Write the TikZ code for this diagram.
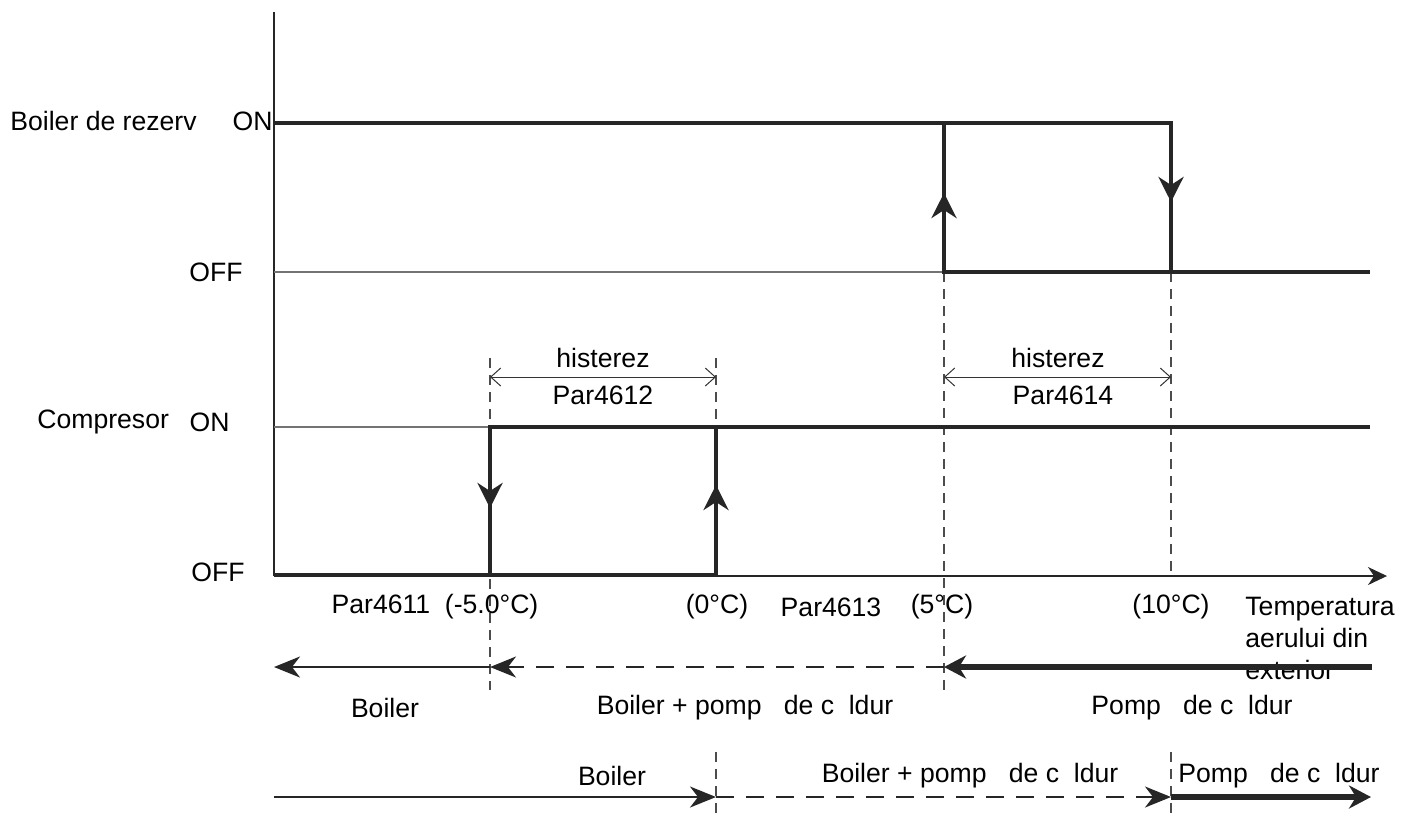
\documentclass[tikz,border=0pt]{standalone}
\usepackage{fontspec}
\setmainfont{Liberation Sans}
\usetikzlibrary{arrows.meta,positioning}
\newcommand{\glyphgap}{\hspace{0.556em}}
\tikzset{
  axis/.style={line width=0.8pt,black!85},
  lvl/.style={line width=2.2pt,black!85},
  thinlvl/.style={line width=0.7pt,black!55},
  guide/.style={dash pattern=on 5pt off 3.5pt,line width=0.6pt,black!70},
  flip/.style={lvl,-{Stealth[length=12.5pt,width=12.5pt,inset=4pt]}},
  hyst/.style={{Straight Barb[length=5pt,width=9pt]}-{Straight Barb[length=5pt,width=9pt]},line width=0.5pt,black!80},
  zone/.style={line width=1pt,black!85,-{Stealth[length=13pt,width=10.5pt,inset=4pt]}},
  zonedash/.style={zone,dash pattern=on 9pt off 6pt},
  zonebold/.style={line width=2.6pt,black!85,-{Stealth[length=11pt,width=11.5pt,inset=3.5pt]}},
  lbl/.style={font=\fontsize{13.3}{16}\selectfont,inner sep=0pt,text=black}
}

\begin{document}
\begin{tikzpicture}[x=0.5pt,y=-0.5pt]
  \useasboundingbox (0,0) rectangle (1401,816);

  % Axes
  \coordinate (o) at (274,576);
  \coordinate (ytop) at (274,12);
  \coordinate (xend) at (1387,576);
  \draw[axis] (ytop) -- (o);
  \draw[axis,-{Stealth[length=9.5pt,width=9pt,inset=3pt]}] (o) -- (xend);

  % Dashed guides
  \draw[guide] (490,358) -- (490,690);
  \draw[guide] (716,358) -- (716,427);
  \draw[guide] (944,272) -- (944,690);
  \draw[guide] (1171,272) -- (1171,576);
  \draw[guide] (716,752) -- (716,816);
  \draw[guide] (1171,752) -- (1171,816);

  % Backup boiler
  \node[lbl,anchor=west] (brLbl) at (10,121) {Boiler de rezerv};
  \node[lbl,anchor=east] (brOn) at (273,121) {ON};
  \node[lbl,anchor=east] (brOff) at (243,272) {OFF};
  \draw[thinlvl] (274,272) -- (944,272);
  \draw[lvl] (274,123) -- (1171,123) -- (1171,272);
  \draw[lvl] (944,123) -- (944,272) -- (1370,272);
  \draw[flip] (944,272) -- (944,193);
  \draw[flip] (1171,123) -- (1171,202);

  % Compressor
  \node[lbl,anchor=west] (cpLbl) at (37,422) {Compresor};
  \node[lbl,anchor=east] (cpOn) at (230,422) {ON};
  \node[lbl,anchor=east] (cpOff) at (245,572) {OFF};
  \draw[thinlvl] (274,427) -- (490,427);
  \draw[lvl] (1370,427) -- (490,427) -- (490,575);
  \draw[lvl] (274,575) -- (716,575) -- (716,427);
  \draw[flip] (490,427) -- (490,508);
  \draw[flip] (716,575) -- (716,485);

  % Hysteresis bands
  \draw[hyst] (490,377) -- (716,377);
  \node[lbl] (hyA) at (603,358) {histerez};
  \node[lbl] (parA) at (603,395) {Par4612};
  \draw[hyst] (944,377) -- (1171,377);
  \node[lbl] (hyB) at (1058,358) {histerez};
  \node[lbl] (parB) at (1063,395) {Par4614};

  % Temperature labels
  \node[lbl] (p11) at (435,607) {Par4611\ \ (-5.0°C)};
  \node[lbl] (t0) at (717,607) {(0°C)};
  \node[lbl] (p13) at (831,607) {Par4613};
  \node[lbl] (t5) at (942,607) {(5°C)};
  \node[lbl] (t10) at (1171,607) {(10°C)};
  \node[lbl,anchor=north west,align=left] (tExt) at (1245,597) {Temperatura\\aerului din\\exterior};

  % Falling temperature
  \draw[zone] (490,667) -- (274,667);
  \draw[zonedash] (944,667) -- (490,667);
  \draw[zonebold] (1372,667) -- (944,667);
  \node[lbl] (zA) at (385,708) {Boiler};
  \node[lbl] (zB) at (745,708) {Boiler + pomp\glyphgap\ de c\glyphgap ldur};
  \node[lbl] (zC) at (1192,708) {Pomp\glyphgap\ de c\glyphgap ldur};

  % Rising temperature
  \draw[zone] (274,797) -- (716,797);
  \draw[zonedash] (716,797) -- (1171,797);
  \draw[zonebold] (1171,797) -- (1371,797);
  \node[lbl] (uA) at (612,776) {Boiler};
  \node[lbl] (uB) at (970,776) {Boiler + pomp\glyphgap\ de c\glyphgap ldur};
  \node[lbl,anchor=west] (uC) at (1178,776) {Pomp\glyphgap\ de c\glyphgap ldur};

\end{tikzpicture}
\end{document}
